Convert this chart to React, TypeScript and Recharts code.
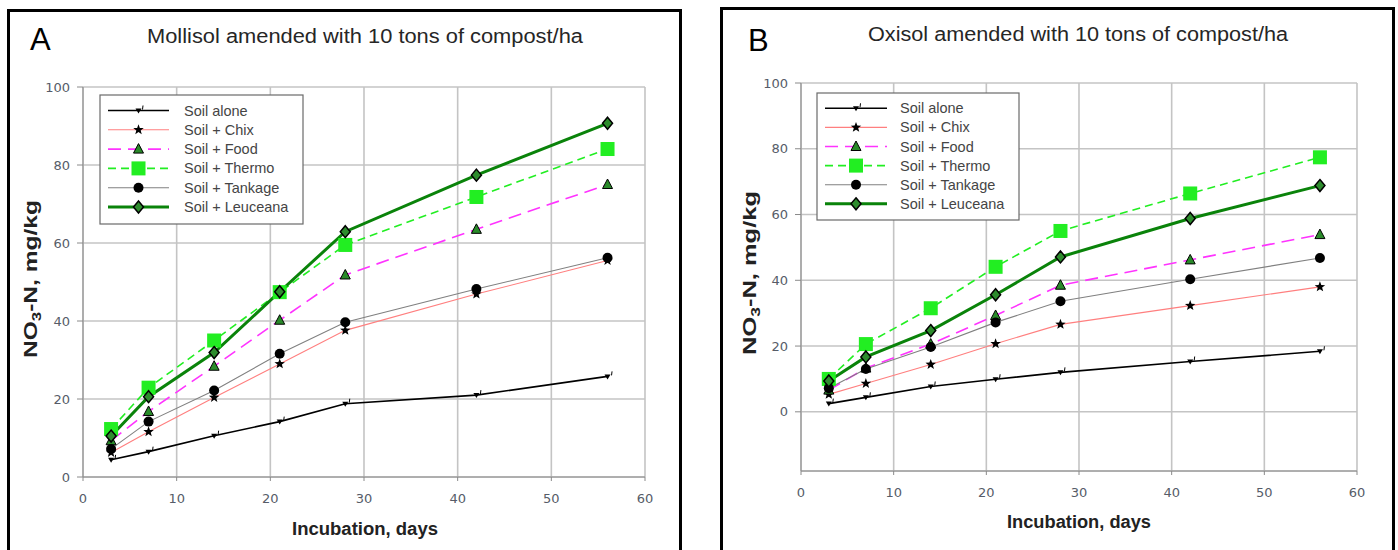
import React from 'react';
import { LineChart, Line, XAxis, YAxis, CartesianGrid } from 'recharts';

// ---------- data ----------
const days = [3, 7, 14, 21, 28, 42, 56];

const soilAloneA = [4.4, 6.5, 10.6, 14.2, 18.8, 21.0, 25.8];
const chixA = [6.3, 11.6, 20.4, 29.0, 37.6, 46.9, 55.5];
const foodA = [9.3, 16.8, 28.4, 40.2, 51.8, 63.5, 75.0];
const thermoA = [12.3, 22.9, 35.0, 47.4, 59.5, 71.8, 84.1];
const tankageA = [7.2, 14.2, 22.2, 31.6, 39.7, 48.2, 56.2];
const leuceanaA = [10.5, 20.6, 31.9, 47.5, 62.9, 77.4, 90.7];

const soilAloneB = [2.5, 4.4, 7.7, 9.9, 12.0, 15.3, 18.4];
const chixB = [5.3, 8.6, 14.4, 20.7, 26.6, 32.3, 38.0];
const foodB = [6.6, 13.3, 20.6, 29.3, 38.5, 46.2, 53.9];
const thermoB = [10.0, 20.6, 31.5, 44.1, 55.0, 66.4, 77.4];
const tankageB = [7.2, 13.0, 19.7, 27.2, 33.6, 40.3, 46.8];
const leuceanaB = [9.4, 16.7, 24.7, 35.6, 47.1, 58.8, 68.8];

const xTicks = [0, 10, 20, 30, 40, 50, 60];
const yTicks = [0, 20, 40, 60, 80, 100];

const titleA = 'Mollisol amended with 10 tons of compost/ha';
const titleB = 'Oxisol amended with 10 tons of compost/ha';
const xLabel = 'Incubation, days';

const SERIES = [
  { key: 'soil', name: 'Soil alone', color: '#000000', width: 1.6, dash: undefined as string | undefined, marker: 'tick' },
  { key: 'chix', name: 'Soil + Chix', color: '#ff7f7f', width: 1.1, dash: undefined, marker: 'star' },
  { key: 'food', name: 'Soil + Food', color: '#ff33ff', width: 1.6, dash: '13 7', marker: 'triangle' },
  { key: 'thermo', name: 'Soil + Thermo', color: '#22ee22', width: 1.6, dash: '8 5', marker: 'square' },
  { key: 'tankage', name: 'Soil + Tankage', color: '#808080', width: 1.1, dash: undefined, marker: 'circle' },
  { key: 'leuceana', name: 'Soil + Leuceana', color: '#0a830a', width: 3, dash: undefined, marker: 'diamond' },
];

function buildRows(s: number[], c: number[], f: number[], t: number[], k: number[], l: number[]) {
  return days.map((d, i) => ({ day: d, soil: s[i], chix: c[i], food: f[i], thermo: t[i], tankage: k[i], leuceana: l[i] }));
}
const dataA = buildRows(soilAloneA, chixA, foodA, thermoA, tankageA, leuceanaA);
const dataB = buildRows(soilAloneB, chixB, foodB, thermoB, tankageB, leuceanaB);

const FONT = '"Liberation Sans", Arial, sans-serif';
const TICK_FONT = '"DejaVu Sans", Verdana, sans-serif';

// ---------- markers ----------
function starPoints(cx: number, cy: number, ro: number, ri: number) {
  const pts: string[] = [];
  for (let i = 0; i < 10; i++) {
    const r = i % 2 === 0 ? ro : ri;
    const a = -Math.PI / 2 + (i * Math.PI) / 5;
    pts.push(`${cx + r * Math.cos(a)},${cy + r * Math.sin(a)}`);
  }
  return pts.join(' ');
}

function Marker({ type, cx, cy }: { type: string; cx: number; cy: number }) {
  switch (type) {
    case 'tick':
      return (
        <g>
          <polygon points={`${cx - 3},${cy - 2} ${cx + 3},${cy - 2} ${cx},${cy + 3}`} fill="#000" />
          <line x1={cx + 4} y1={cy - 1} x2={cx + 4.5} y2={cy - 5} stroke="#000" strokeWidth={1} />
        </g>
      );
    case 'star':
      return <polygon points={starPoints(cx, cy, 5.5, 2.3)} fill="#000" />;
    case 'triangle':
      return <polygon points={`${cx},${cy - 5.5} ${cx + 5},${cy + 4} ${cx - 5},${cy + 4}`} fill="#2a8a2a" stroke="#000" strokeWidth={1} />;
    case 'square':
      return <rect x={cx - 7} y={cy - 7} width={14} height={14} fill="#22ee22" />;
    case 'circle':
      return <circle cx={cx} cy={cy} r={5} fill="#000" />;
    case 'diamond':
      return <polygon points={`${cx},${cy - 6} ${cx + 5},${cy} ${cx},${cy + 6} ${cx - 5},${cy}`} fill="#2d8c2d" stroke="#000" strokeWidth={1.5} />;
    default:
      return null;
  }
}

function makeDot(type: string) {
  return (props: any) => {
    const { cx, cy, index } = props;
    if (cx == null || cy == null) return <g key={`${type}-${index}`} />;
    return (
      <g key={`${type}-${index}`}>
        <Marker type={type} cx={cx} cy={cy} />
      </g>
    );
  };
}

// ---------- chart panel ----------
function Chart({ data, width, margin, domain }: { data: any[]; width: number; margin: any; domain: [number, number] }) {
  return (
    <LineChart width={width} height={550} data={data} margin={margin}>
      <CartesianGrid stroke="#c4c4c4" strokeWidth={1.6} />
      <XAxis
        dataKey="day"
        type="number"
        domain={[0, 60]}
        ticks={xTicks}
        height={30}
        tickSize={4}
        tickMargin={13}
        axisLine={{ stroke: '#8a8a8a' }}
        tickLine={{ stroke: '#8a8a8a' }}
        tick={{ fill: '#565c68', fontSize: 13, fontFamily: TICK_FONT }}
      />
      <YAxis
        type="number"
        domain={domain}
        ticks={yTicks}
        width={50}
        tickSize={6}
        tickMargin={7}
        allowDataOverflow
        axisLine={{ stroke: '#8a8a8a' }}
        tickLine={{ stroke: '#8a8a8a' }}
        tick={{ fill: '#565c68', fontSize: 13, fontFamily: TICK_FONT }}
      />
      {SERIES.map((s) => (
        <Line
          key={s.key}
          type="linear"
          dataKey={s.key}
          name={s.name}
          stroke={s.color}
          strokeWidth={s.width}
          strokeDasharray={s.dash}
          dot={makeDot(s.marker)}
          activeDot={false}
          isAnimationActive={false}
        />
      ))}
    </LineChart>
  );
}

function LegendBox({ x, y, w, h, rowY0, rowStep, lineX1, lineX2, textX }: any) {
  return (
    <g>
      <rect x={x} y={y} width={w} height={h} fill="#fff" stroke="#6a6a6a" strokeWidth={1.2} />
      {SERIES.map((s, i) => {
        const ry = rowY0 + i * rowStep;
        const mx = (lineX1 + lineX2) / 2;
        return (
          <g key={s.key}>
            <line x1={lineX1} y1={ry} x2={lineX2} y2={ry} stroke={s.color} strokeWidth={s.width} strokeDasharray={s.dash} />
            <Marker type={s.marker} cx={mx} cy={ry} />
            <text x={textX} y={ry + 5} fontSize={14.5} fontFamily={FONT} fill="#454545">
              {s.name}
            </text>
          </g>
        );
      })}
    </g>
  );
}

function YLabel({ cx, cy, len }: { cx: number; cy: number; len: number }) {
  return (
    <text
      transform={`translate(${cx},${cy}) rotate(-90)`}
      textAnchor="middle"
      fontSize={19}
      fontWeight="bold"
      fontFamily={FONT}
      fill="#222"
      textLength={len}
      lengthAdjust="spacingAndGlyphs"
    >
      NO
      <tspan fontSize={13} dy={4}>3</tspan>
      <tspan dy={-4}>-N, mg/kg</tspan>
    </text>
  );
}

export default function App() {
  return (
    <div style={{ position: 'absolute', left: 0, top: 0, width: 1398, height: 550, background: '#fff', overflow: 'hidden' }}>
      <div style={{ position: 'absolute', left: 7, top: 9, width: 675, height: 560, border: '3px solid #000', boxSizing: 'border-box' }} />
      <div style={{ position: 'absolute', left: 720, top: 7, width: 675, height: 560, border: '3px solid #000', boxSizing: 'border-box' }} />

      <div style={{ position: 'absolute', left: 0, top: 0 }}>
        <Chart data={dataA} width={700} margin={{ top: 87, right: 55, bottom: 43, left: 33 }} domain={[0, 100]} />
      </div>
      <div style={{ position: 'absolute', left: 700, top: 0 }}>
        <Chart data={dataB} width={698} margin={{ top: 83, right: 41, bottom: 49, left: 51 }} domain={[-18, 100]} />
      </div>

      <svg width={1398} height={550} style={{ position: 'absolute', left: 0, top: 0, pointerEvents: 'none' }}>
        <text x={30} y={50} fontSize={31} fontFamily={FONT} fill="#000">A</text>
        <text x={748} y={51} fontSize={31} fontFamily={FONT} fill="#000">B</text>
        <text x={147} y={43} fontSize={20} fontFamily={FONT} fill="#262626" textLength={436} lengthAdjust="spacingAndGlyphs">{titleA}</text>
        <text x={868} y={41} fontSize={20} fontFamily={FONT} fill="#262626" textLength={420} lengthAdjust="spacingAndGlyphs">{titleB}</text>
        <text x={292} y={535} fontSize={18} fontWeight="bold" fontFamily={FONT} fill="#222" textLength={146} lengthAdjust="spacingAndGlyphs">{xLabel}</text>
        <text x={1007} y={528} fontSize={18} fontWeight="bold" fontFamily={FONT} fill="#222" textLength={144} lengthAdjust="spacingAndGlyphs">{xLabel}</text>
        <YLabel cx={37} cy={279} len={158} />
        <YLabel cx={756} cy={273} len={164} />
        <LegendBox x={100} y={95} w={203} h={129} rowY0={110.5} rowStep={19.3} lineX1={108} lineX2={169} textX={184} />
        <LegendBox x={817} y={93} w={202} h={127} rowY0={108.3} rowStep={19.1} lineX1={825} lineX2={887} textX={900} />
      </svg>
    </div>
  );
}
